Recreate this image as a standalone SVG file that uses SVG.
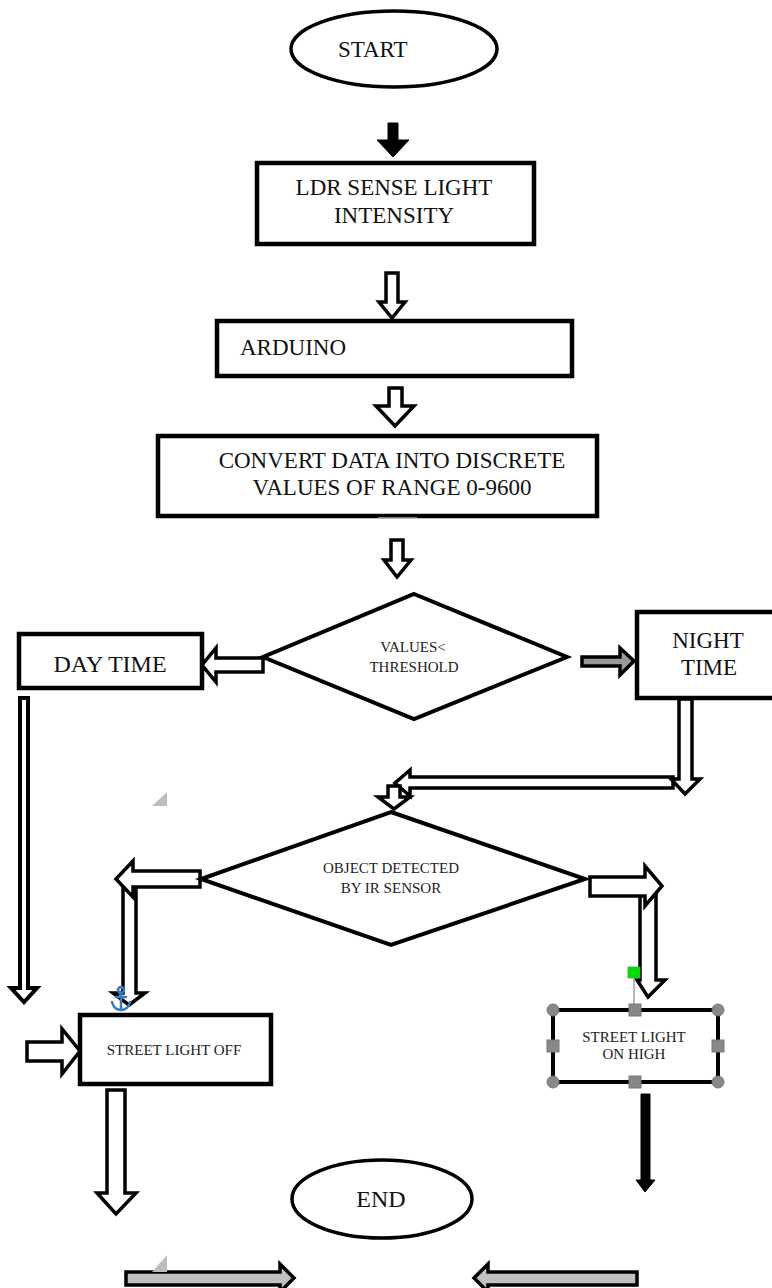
<svg xmlns="http://www.w3.org/2000/svg" width="772" height="1288" viewBox="0 0 772 1288">
<style>
.box{fill:#fff;stroke:#000;stroke-width:4.5}
.term{fill:#fff;stroke:#000;stroke-width:3.5}
.dia{fill:#fff;stroke:#000;stroke-width:4}
.big{font-size:23px}
.sm{font-size:15px}
.wa{fill:#fff;stroke:#000;stroke-width:3.5;stroke-linejoin:miter}
.ba{fill:#000;stroke:#000;stroke-width:1}
.ga{fill:#999;stroke:#000;stroke-width:3.5}
.la{fill:#c0c0c0;stroke:#000;stroke-width:3.5}
.hdl{fill:#888;stroke:#777;stroke-width:1}
.art{fill:#bdbdbd}
</style>
<rect width="772" height="1288" fill="#fff"/>

<g id="connectors">
  <polygon class="ba" points="388,123 398,123 398,140 409,140 393,157 377,140 388,140"/>
  <polygon class="wa" points="386,273 398,273 398,302 405,302 392,318 379,302 386,302"/>
  <polygon class="wa" points="389,388 402,388 402,406 414,406 395,426 376,406 389,406"/>
  <polygon class="wa" points="391,540 403,540 403,560 411,560 397,577 384,560 391,560"/>
  <polygon class="wa" points="263,658 263,672 216,672 216,682 202,665 216,648 216,658"/>
  <polygon class="ga" points="582,657 620,657 620,648 634,661 620,675 620,666 582,666"/>
  <polygon class="wa" points="673,777 673,788 410,788 410,796 395,783 410,770 410,777"/>
  <polygon class="wa" points="679,699 692,699 692,779 700,779 685,794 671,779 679,779"/>
  <polygon class="wa" points="388,786 400,786 400,797 410,797 394,809 378,797 388,797"/>
  <polygon style="fill:#fff;stroke:#000;stroke-width:4" points="20,698 28,698 28,988 37,988 24,1002 11,988 20,988"/>
  <polygon class="wa" points="123,887 136,887 136,993 145,993 129,1005 113,993 123,993"/>
  <polygon class="wa" points="200,871 200,887 133,887 133,897 116,879 133,861 133,871"/>
  <polygon class="wa" points="640,894 656,894 656,980 665,980 648,997 637,980 640,980"/>
  <polygon class="wa" points="590,877 645,877 645,866 662,886 645,906 645,896 590,896"/>
  <polygon class="wa" points="27,1042 62,1042 62,1029 80,1051 62,1074 62,1061 27,1061"/>
  <polygon class="wa" points="107,1090 125,1090 125,1193 136,1193 116,1214 97,1193 107,1193"/>
  <polygon class="ba" points="641,1094 650,1094 650,1180 655,1180 645,1192 636,1180 641,1180"/>
  <polygon class="la" points="126,1272 280,1272 280,1264 294,1278 280,1292 280,1285 126,1285"/>
  <polygon class="la" points="637,1272 488,1272 488,1264 474,1278 488,1292 488,1285 637,1285"/>
</g>

<g font-family="'Liberation Serif', 'DejaVu Serif', serif" fill="#111">
<g id="start">
  <ellipse class="term" cx="394" cy="49" rx="103" ry="38"/>
  <text class="big" x="338" y="57">START</text>
</g>

<g id="ldr">
  <rect class="box" x="257" y="163" width="277" height="81"/>
  <text class="big" x="394" y="195" text-anchor="middle">LDR SENSE LIGHT</text>
  <text class="big" x="394" y="223" text-anchor="middle">INTENSITY</text>
</g>

<g id="arduino">
  <rect class="box" x="217" y="321" width="355" height="55"/>
  <text class="big" x="240" y="355">ARDUINO</text>
</g>

<g id="convert">
  <rect class="box" x="158" y="436" width="439" height="80"/>
  <text class="big" x="392" y="468" text-anchor="middle">CONVERT DATA INTO DISCRETE</text>
  <text class="big" x="392" y="495" text-anchor="middle">VALUES OF RANGE 0-9600</text>
  <line x1="378" y1="518" x2="417" y2="518" stroke="#aaa" stroke-width="1.5"/>
</g>

<g id="threshold">
  <polygon class="dia" points="414,594 567,657 414,719 263,657"/>
  <text class="sm" x="413" y="652" text-anchor="middle" fill="#222">VALUES&lt;</text>
  <text class="sm" x="414" y="672" text-anchor="middle" fill="#222">THRESHOLD</text>
</g>

<g id="daytime">
  <rect class="box" x="19" y="634" width="183" height="54"/>
  <text font-size="24" x="110" y="672" text-anchor="middle">DAY TIME</text>
</g>

<g id="nighttime">
  <rect class="box" x="637" y="612" width="170" height="86"/>
  <text class="big" x="708" y="648" text-anchor="middle">NIGHT</text>
  <text class="big" x="709" y="675" text-anchor="middle">TIME</text>
</g>

<g id="irsensor">
  <polygon class="dia" points="391,812 585,879 391,945 201,879"/>
  <text class="sm" x="391" y="873" text-anchor="middle" fill="#222">OBJECT DETECTED</text>
  <text class="sm" x="391" y="893" text-anchor="middle" fill="#222">BY IR SENSOR</text>
</g>

<g id="lightoff">
  <rect class="box" x="80" y="1015" width="191" height="69"/>
  <text class="sm" x="174" y="1055" text-anchor="middle" fill="#222">STREET LIGHT OFF</text>
</g>

<g id="lighthigh">
  <rect class="box" style="stroke-width:4" x="553" y="1010" width="165" height="72"/>
  <text class="sm" x="634" y="1042" text-anchor="middle" fill="#222">STREET LIGHT</text>
  <text class="sm" x="634" y="1059" text-anchor="middle" fill="#222">ON HIGH</text>
  <line x1="634" y1="978" x2="634" y2="1010" stroke="#888" stroke-width="1.2"/>
  <rect x="628" y="967" width="12" height="11" fill="#00e000" stroke="#4a4" stroke-width="0.8"/>
  <circle class="hdl" cx="553" cy="1010" r="6"/>
  <circle class="hdl" cx="718" cy="1010" r="6"/>
  <circle class="hdl" cx="553" cy="1082" r="6"/>
  <circle class="hdl" cx="718" cy="1082" r="6"/>
  <rect class="hdl" x="629" y="1004" width="12" height="12"/>
  <rect class="hdl" x="629" y="1076" width="12" height="12"/>
  <rect class="hdl" x="547" y="1040" width="12" height="12"/>
  <rect class="hdl" x="712" y="1040" width="12" height="12"/>
</g>

<g id="end">
  <ellipse class="term" cx="382" cy="1199" rx="90" ry="39"/>
  <text font-size="24" x="381" y="1207" text-anchor="middle">END</text>
</g>
</g>

<g id="artifacts">
  <polygon class="art" points="152,806 167,792 167,806"/>
  <polygon class="art" points="152,1272 167,1255 167,1272"/>
  <g fill="none" stroke="#3a78c0" stroke-width="2.5" stroke-linecap="round">
    <circle cx="121" cy="990" r="3"/>
    <line x1="121" y1="993" x2="121" y2="1010"/>
    <line x1="116" y1="997" x2="126" y2="997"/>
    <path d="M112,1002 Q114,1010 121,1010 Q128,1010 130,1002"/>
  </g>
</g>
</svg>
